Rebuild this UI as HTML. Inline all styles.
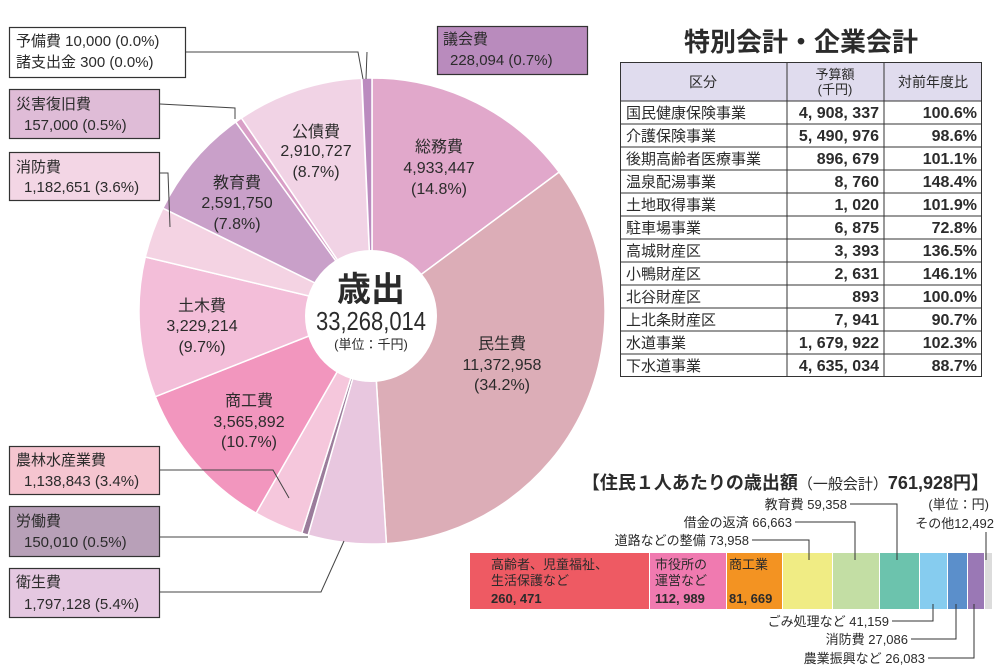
<!DOCTYPE html>
<html><head><meta charset="utf-8"><style>
html,body{margin:0;padding:0;background:#fff;}
svg{display:block;}
text{font-family:"Liberation Sans","Noto Sans CJK JP",sans-serif;fill:#2b2b2b;}
.n{font-family:"Liberation Sans Narrow","Liberation Sans","Noto Sans CJK JP",sans-serif;}
</style></head><body>
<svg width="1005" height="667" viewBox="0 0 1005 667" xmlns="http://www.w3.org/2000/svg">
<g stroke="#fff" stroke-width="1.5">
<path d="M372,311 L372,78 A233,233 0 0 1 559.1,172.1 Z" fill="#e1a8cb"/>
<path d="M372,311 L559.1,172.1 A233,233 0 0 1 386.4,543.6 Z" fill="#dcadb7"/>
<path d="M372,311 L386.4,543.6 A233,233 0 0 1 308.1,535.1 Z" fill="#e8c7df"/>
<path d="M372,311 L308.1,535.1 A233,233 0 0 1 301.8,533.2 Z" fill="#9b7c9b"/>
<path d="M372,311 L301.8,533.2 A233,233 0 0 1 256.1,513.1 Z" fill="#f5c7dc"/>
<path d="M372,311 L256.1,513.1 A233,233 0 0 1 155.3,396.7 Z" fill="#f296be"/>
<path d="M372,311 L155.3,396.7 A233,233 0 0 1 145.3,257 Z" fill="#f3bed9"/>
<path d="M372,311 L145.3,257 A233,233 0 0 1 162.9,208.2 Z" fill="#f4d3e3"/>
<path d="M372,311 L162.9,208.2 A233,233 0 0 1 235.7,122 Z" fill="#c9a0c9"/>
<path d="M372,311 L235.7,122 A233,233 0 0 1 241.4,118 Z" fill="#d99fc7"/>
<path d="M372,311 L241.4,118 A233,233 0 0 1 361.5,78.2 Z" fill="#f1d3e5"/>
<path d="M372,311 L361.9,78.1 A233,233 0 0 1 372,78 Z" fill="#bb8bbf"/>
</g>
<circle cx="371" cy="316" r="66" fill="#fff"/>
<text x="371" y="301" text-anchor="middle" font-size="34" font-weight="bold">歳出</text>
<text x="371" y="330" text-anchor="middle" font-size="26" class="n" textLength="110" lengthAdjust="spacingAndGlyphs">33,268,014</text>
<text x="371" y="349" text-anchor="middle" font-size="13">(単位：千円)</text>
<g font-size="16" text-anchor="middle">
<text x="439" y="152">総務費</text><text x="439" y="173" class="n">4,933,447</text><text x="439" y="194" class="n">(14.8%)</text>
<text x="316" y="137">公債費</text><text x="316" y="156" class="n">2,910,727</text><text x="316" y="177" class="n">(8.7%)</text>
<text x="237" y="188">教育費</text><text x="237" y="208" class="n">2,591,750</text><text x="237" y="229" class="n">(7.8%)</text>
<text x="202" y="311">土木費</text><text x="202" y="331" class="n">3,229,214</text><text x="202" y="352" class="n">(9.7%)</text>
<text x="249" y="406">商工費</text><text x="249" y="427" class="n">3,565,892</text><text x="249" y="447" class="n">(10.7%)</text>
<text x="502" y="349">民生費</text><text x="502" y="370" class="n">11,372,958</text><text x="502" y="390" class="n">(34.2%)</text>
</g>
<g fill="none" stroke="#444" stroke-width="1">
<polyline points="186,52 358,52 363,79"/>
<polyline points="367,52 366,79"/>
<polyline points="160,104 235,108 235,119"/>
<polyline points="160,173 168,173 170,227"/>
<polyline points="160,470 273,470 289,498"/>
<polyline points="160,537 308,537"/>
<polyline points="160,592 321,592 344,541"/>
</g>
<g stroke="#333" stroke-width="1.2">
<rect x="9.5" y="27.5" width="176" height="50" fill="#fff"/>
<rect x="437.5" y="26.5" width="150" height="48" fill="#b98bbd"/>
<rect x="9.5" y="89.5" width="150" height="49" fill="#dfbcd7"/>
<rect x="9.5" y="152.5" width="150" height="48" fill="#f3d6e5"/>
<rect x="9.5" y="446.5" width="150" height="48" fill="#f5c5d0"/>
<rect x="9.5" y="506.5" width="150" height="50" fill="#b8a0b8"/>
<rect x="9.5" y="568.5" width="150" height="49" fill="#e5c8e1"/>
</g>
<g font-size="15">
<text x="16" y="46">予備費 <tspan class="n">10,000 (0.0%)</tspan></text>
<text x="16" y="67">諸支出金 <tspan class="n">300 (0.0%)</tspan></text>
<text x="443" y="44">議会費</text><text x="450" y="65" class="n">228,094 (0.7%)</text>
<text x="16" y="109">災害復旧費</text><text x="24" y="130" class="n">157,000 (0.5%)</text>
<text x="16" y="172">消防費</text><text x="24" y="192" class="n">1,182,651 (3.6%)</text>
<text x="16" y="465">農林水産業費</text><text x="24" y="486" class="n">1,138,843 (3.4%)</text>
<text x="16" y="526">労働費</text><text x="24" y="547" class="n">150,010 (0.5%)</text>
<text x="16" y="587">衛生費</text><text x="24" y="609" class="n">1,797,128 (5.4%)</text>
</g>
<!-- table -->
<text x="801" y="51" text-anchor="middle" font-size="26" font-weight="bold">特別会計・企業会計</text>
<rect x="620" y="62" width="362" height="39" fill="#e0dcee"/>
<g stroke="#333" stroke-width="1" fill="none">
<rect x="620.5" y="62.5" width="361" height="314"/>
<line x1="787" y1="62" x2="787" y2="377"/><line x1="884" y1="62" x2="884" y2="377"/>
<line x1="620" y1="101" x2="982" y2="101"/>
<line x1="620" y1="124" x2="982" y2="124"/><line x1="620" y1="147" x2="982" y2="147"/>
<line x1="620" y1="170" x2="982" y2="170"/><line x1="620" y1="193" x2="982" y2="193"/>
<line x1="620" y1="216" x2="982" y2="216"/><line x1="620" y1="239" x2="982" y2="239"/>
<line x1="620" y1="262" x2="982" y2="262"/><line x1="620" y1="285" x2="982" y2="285"/>
<line x1="620" y1="308" x2="982" y2="308"/><line x1="620" y1="331" x2="982" y2="331"/>
<line x1="620" y1="354" x2="982" y2="354"/>
</g>
<g font-size="14">
<text x="703" y="87" text-anchor="middle">区分</text>
<text x="835" y="79" text-anchor="middle" font-size="13">予算額</text>
<text x="835" y="94" text-anchor="middle" font-size="13">(千円)</text>
<text x="933" y="87" text-anchor="middle">対前年度比</text>
</g>
<g font-size="15">
<text x="626" y="118">国民健康保険事業</text>
<text x="626" y="141">介護保険事業</text>
<text x="626" y="164">後期高齢者医療事業</text>
<text x="626" y="187">温泉配湯事業</text>
<text x="626" y="210">土地取得事業</text>
<text x="626" y="233">駐車場事業</text>
<text x="626" y="256">高城財産区</text>
<text x="626" y="279">小鴨財産区</text>
<text x="626" y="302">北谷財産区</text>
<text x="626" y="325">上北条財産区</text>
<text x="626" y="348">水道事業</text>
<text x="626" y="371">下水道事業</text>
</g>
<g font-size="16" text-anchor="end" font-weight="bold" class="n">
<text x="879" y="118">4, 908, 337</text><text x="879" y="141">5, 490, 976</text><text x="879" y="164">896, 679</text>
<text x="879" y="187">8, 760</text><text x="879" y="210">1, 020</text><text x="879" y="233">6, 875</text>
<text x="879" y="256">3, 393</text><text x="879" y="279">2, 631</text><text x="879" y="302">893</text>
<text x="879" y="325">7, 941</text><text x="879" y="348">1, 679, 922</text><text x="879" y="371">4, 635, 034</text>
<text x="977" y="118">100.6%</text><text x="977" y="141">98.6%</text><text x="977" y="164">101.1%</text>
<text x="977" y="187">148.4%</text><text x="977" y="210">101.9%</text><text x="977" y="233">72.8%</text>
<text x="977" y="256">136.5%</text><text x="977" y="279">146.1%</text><text x="977" y="302">100.0%</text>
<text x="977" y="325">90.7%</text><text x="977" y="348">102.3%</text><text x="977" y="371">88.7%</text>
</g>
<!-- bar -->
<text x="989" y="489" text-anchor="end" font-size="18" font-weight="bold">【住民１人あたりの歳出額<tspan font-size="15" font-weight="normal">（一般会計）</tspan>761,928円】</text>
<text x="989" y="509" text-anchor="end" font-size="13">(単位：円)</text>
<text x="994" y="528" text-anchor="end" font-size="13">その他12,492</text>
<g font-size="13" text-anchor="end">
<text x="847" y="509">教育費 59,358</text>
<text x="792" y="527">借金の返済 66,663</text>
<text x="749" y="545">道路などの整備 73,958</text>
<text x="889" y="626">ごみ処理など 41,159</text>
<text x="908" y="644">消防費 27,086</text>
<text x="925" y="663">農業振興など 26,083</text>
</g>
<rect x="470" y="553" width="179" height="56" fill="#ee5a63"/>
<rect x="650" y="553" width="76" height="56" fill="#f07ab0"/>
<rect x="727" y="553" width="55" height="56" fill="#f39322"/>
<rect x="783" y="553" width="49" height="56" fill="#f0ec84"/>
<rect x="833" y="553" width="46" height="56" fill="#c3dea4"/>
<rect x="880" y="553" width="39" height="56" fill="#6cc3ad"/>
<rect x="920" y="553" width="27" height="56" fill="#86ccef"/>
<rect x="948" y="553" width="19" height="56" fill="#5b8fcb"/>
<rect x="968" y="553" width="16" height="56" fill="#9a78b5"/>
<rect x="985" y="553" width="7" height="56" fill="#dcdcdc"/>
<g fill="none" stroke="#333" stroke-width="1">
<polyline points="850,504 897,504 897,560"/>
<polyline points="795,522 855,522 855,560"/>
<polyline points="752,540 809,540 809,560"/>
<polyline points="986,532 986,560"/>
<polyline points="892,621 933,621 933,604"/>
<polyline points="911,639 956,639 956,604"/>
<polyline points="928,658 974,658 974,604"/>
</g>
<g font-size="13" fill="#2b2b2b">
<text x="491" y="569">高齢者、児童福祉、</text>
<text x="491" y="585">生活保護など</text>
<text x="491" y="603" font-weight="bold">260, 471</text>
<text x="655" y="569">市役所の</text>
<text x="655" y="585">運営など</text>
<text x="655" y="603" font-weight="bold">112, 989</text>
<text x="729" y="569">商工業</text>
<text x="729" y="603" font-weight="bold">81, 669</text>
</g>
</svg>
</body></html>
